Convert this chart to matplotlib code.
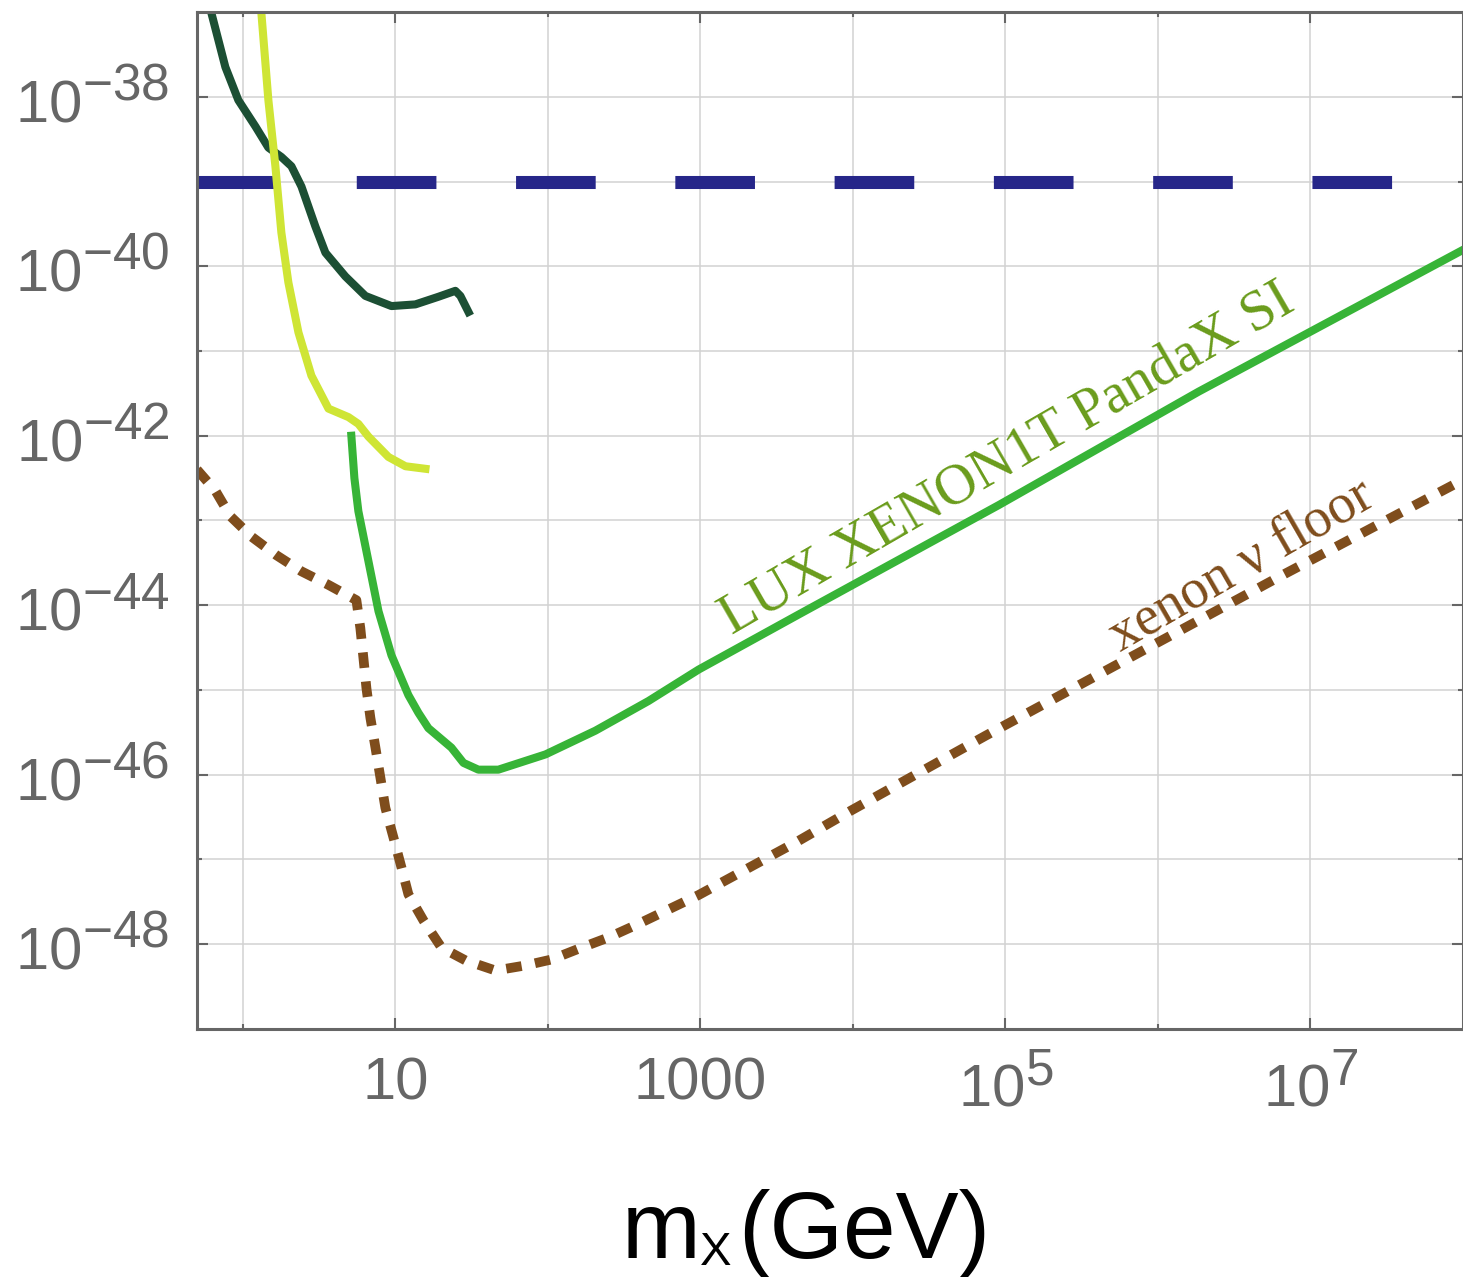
import matplotlib
matplotlib.use("Agg")
import matplotlib.pyplot as plt
import matplotlib._mathtext as mathtext_mod

# bigger superscripts, like the original tick labels
mathtext_mod.SHRINK_FACTOR = 0.86

plt.rcParams['mathtext.fontset'] = 'custom'
plt.rcParams['mathtext.rm'] = 'Liberation Sans'
plt.rcParams['mathtext.it'] = 'Liberation Sans:italic'
plt.rcParams['font.family'] = ['Liberation Sans', 'DejaVu Sans']

# ---- data (m in GeV as log10, log10 of cross section in cm^2) ----
dark_lx = [-0.226, -0.207, -0.115, -0.030, 0.082, 0.167, 0.252, 0.318, 0.384,
           0.475, 0.541, 0.672, 0.803, 0.974, 1.131, 1.282, 1.393, 1.426, 1.479]
dark_ly = [-36.86, -37.01, -37.65, -38.04, -38.35, -38.60, -38.71, -38.82, -39.06,
           -39.53, -39.84, -40.12, -40.35, -40.47, -40.45, -40.36, -40.29, -40.35, -40.54]

yel_lx = [0.115, 0.121, 0.167, 0.213, 0.252, 0.298, 0.364, 0.449, 0.561, 0.692,
          0.757, 0.823, 0.954, 1.066, 1.197]
yel_ly = [-36.86, -37.01, -38.04, -38.82, -39.60, -40.19, -40.78, -41.29, -41.68, -41.78,
          -41.86, -42.01, -42.25, -42.36, -42.39]

lux_lx = [0.711, 0.731, 0.757, 0.823, 0.889, 0.974, 1.085, 1.151, 1.216, 1.367, 1.446,
          1.544, 1.675, 1.984, 2.311, 2.659, 2.987, 3.643, 4.954, 6.266, 8.10]
lux_ly = [-42.00, -42.50, -42.89, -43.48, -44.07, -44.59, -45.06, -45.27, -45.45, -45.68, -45.86,
          -45.94, -45.94, -45.76, -45.48, -45.13, -44.76, -44.11, -42.82, -41.48, -39.71]

floor_lx = [-0.301, -0.180, -0.082, 0.056, 0.220, 0.384, 0.561, 0.744, 0.770, 0.790,
            0.810, 0.836, 0.869, 0.902, 0.934, 0.987, 1.039, 1.085, 1.184, 1.302,
            1.459, 1.656, 1.852, 2.023, 2.220, 2.397, 2.593, 2.987, 3.643, 3.990,
            4.869, 5.721, 6.810, 8.0]
floor_ly = [-42.40, -42.65, -42.95, -43.19, -43.41, -43.60, -43.76, -43.94, -44.27, -44.62,
            -44.98, -45.33, -45.68, -46.04, -46.39, -46.74, -47.09, -47.41, -47.72, -48.04,
            -48.19, -48.31, -48.25, -48.18, -48.04, -47.92, -47.76, -47.42, -46.78, -46.42,
            -45.54, -44.71, -43.65, -42.52]

limit_lx = [-0.301, 8.0]
limit_ly = [-39.0, -39.0]

x_major = [10, 1e3, 1e5, 1e7]
x_labels = ['10', '1000', r'$10^{5}$', r'$10^{7}$']
x_minor = [1, 100, 1e4, 1e6]
y_major = [1e-38, 1e-40, 1e-42, 1e-44, 1e-46, 1e-48]
y_labels = [r'$10^{-38}$', r'$10^{-40}$', r'$10^{-42}$', r'$10^{-44}$', r'$10^{-46}$', r'$10^{-48}$']
y_minor = [1e-39, 1e-41, 1e-43, 1e-45, 1e-47]


def pw(v):
    return [10 ** t for t in v]


fig = plt.figure(figsize=(14.63, 12.77), dpi=100)
ax = fig.add_axes([197 / 1463, 1 - 1029 / 1277, (1463 - 197) / 1463, (1029 - 12) / 1277])
ax.set_xscale('log')
ax.set_yscale('log')
ax.set_xlim(0.5, 1e8)
ax.set_ylim(1e-49, 1e-37)

ax.plot(pw(limit_lx), pw(limit_ly), color='#262689', lw=9.4, dashes=(6.1, 6.1),
        solid_capstyle='butt', dash_capstyle='butt')
ax.plot(pw(dark_lx), pw(dark_ly), color='#1c4f34', lw=5.8, solid_joinstyle='round')
ax.plot(pw(yel_lx), pw(yel_ly), color='#cfe535', lw=5.8, solid_joinstyle='round')
ax.plot(pw(lux_lx), pw(lux_ly), color='#37b437', lw=5.8, solid_joinstyle='round')
ax.plot(pw(floor_lx), pw(floor_ly), color='#7f4d1c', lw=7.0, dashes=(1.6, 1.4),
        dash_capstyle='butt')

ax.text(1600, 10 ** -44.35, 'LUX XENON1T PandaX SI', rotation=30,
        rotation_mode='anchor', ha='left', va='baseline', fontsize=41,
        family='Liberation Serif', color='#6a9c1c')
ax.text(5.7e5, 10 ** -44.55, 'xenon ν floor', rotation=30,
        rotation_mode='anchor', ha='left', va='baseline', fontsize=40,
        family='Liberation Serif', color='#7f4d1c')

ax.set_xticks(x_major)
ax.set_xticklabels(x_labels)
ax.set_xticks(x_minor, minor=True)
ax.set_xticklabels([''] * len(x_minor), minor=True)
ax.set_yticks(y_major)
ax.set_yticklabels(y_labels)
ax.set_yticks(y_minor, minor=True)
ax.set_yticklabels([''] * len(y_minor), minor=True)

ax.grid(True, which='both', color='#d2d2d2', lw=1.1)
ax.set_axisbelow(True)
ax.tick_params(which='major', direction='in', length=8, width=1.5, color='#666666',
               labelsize=43, labelcolor='#666666', top=True, right=True)
ax.tick_params(axis='x', which='major', pad=20)
ax.tick_params(axis='y', which='major', pad=20)
ax.tick_params(which='minor', direction='in', length=3.5, width=1.5, color='#666666',
               top=True, right=True)
for s in ax.spines.values():
    s.set_color('#666666')
    s.set_linewidth(2.2)

# x axis title, m with a small subscript X
base_y = 1 - 1258 / 1277
fig.text(622 / 1463, base_y, 'm', fontsize=68, ha='left', va='baseline')
fig.text(700 / 1463, base_y - 7 / 1277, 'X', fontsize=34, ha='left', va='baseline')
fig.text(738 / 1463, base_y, '(GeV)', fontsize=68, ha='left', va='baseline')

fig.savefig('out.png', dpi=100)
